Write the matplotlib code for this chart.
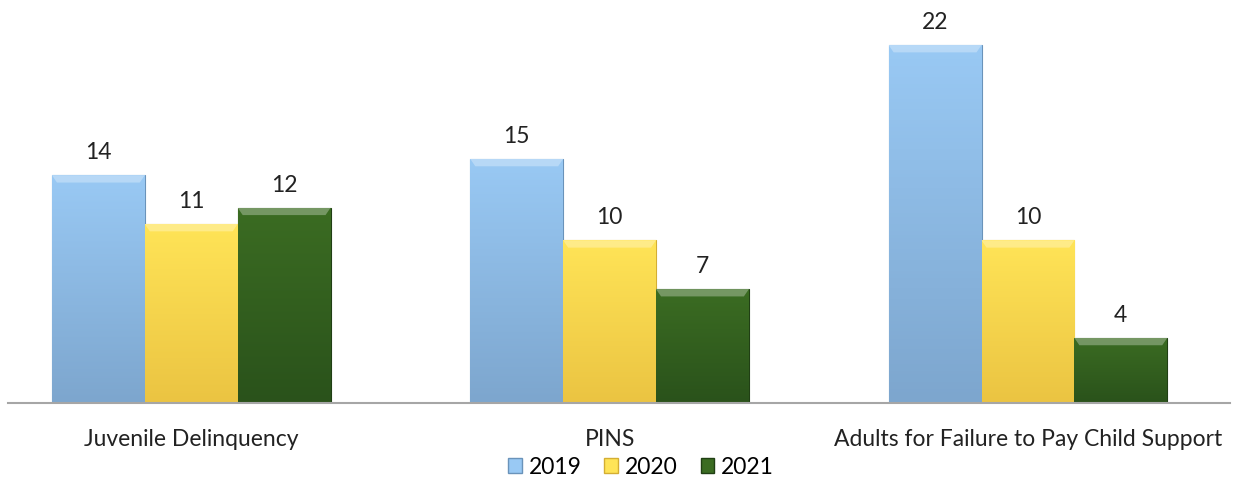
import numpy as np
import matplotlib
matplotlib.use("Agg")
import matplotlib.pyplot as plt
from matplotlib.colors import LinearSegmentedColormap

categories = ["Juvenile Delinquency", "PINS", "Adults for Failure to Pay Child Support"]
years = ["2019", "2020", "2021"]
v2019 = [14, 15, 22]
v2020 = [11, 10, 10]
v2021 = [12, 7, 4]
series = [v2019, v2020, v2021]

top_colors = ["#99C9F4", "#FFE457", "#3B6C22"]
bot_colors = ["#7DA6CE", "#EBC442", "#2A521B"]
edge_colors = ["#6A93BA", "#D4AE33", "#203F14"]

plt.rcParams['font.family'] = ['Lato', 'DejaVu Sans']

fig = plt.figure(figsize=(12.35, 4.8), dpi=100)
ax = fig.add_axes([8/1235, 77/480, (1230-8)/1235, 383/480])

width = 0.222
x = np.arange(len(categories))
ymax = 23.54
for i, vals in enumerate(series):
    pos = x + (i - 1) * width
    bars = ax.bar(pos, vals, width=width, color=top_colors[i], edgecolor=edge_colors[i],
                  linewidth=0.8, zorder=2, label=years[i])
    cmap = LinearSegmentedColormap.from_list("g%d" % i, [bot_colors[i], top_colors[i]])
    for b, v in zip(bars, vals):
        x0 = b.get_x()
        w = b.get_width()
        grad = np.linspace(0, 1, 100).reshape(-1, 1)
        im = ax.imshow(grad, extent=[x0, x0 + w, 0, v], origin="lower", aspect="auto",
                       cmap=cmap, zorder=2.1)
        im.set_clip_path(b)
        bev = 0.45
        ax.fill([x0, x0 + w, x0 + w - 0.012, x0 + 0.012], [v, v, v - bev, v - bev],
                color="white", alpha=0.3, zorder=2.2, lw=0)
        ax.text(x0 + w / 2, v + 0.75, str(v), ha="center", va="bottom", fontsize=16.5,
                color="#222222")

ax.set_xlim(-0.438, 2.483)
ax.set_ylim(0, ymax)
for s in ["top", "right", "left"]:
    ax.spines[s].set_visible(False)
ax.spines["bottom"].set_color("#A6A6A6")
ax.spines["bottom"].set_linewidth(1.5)
ax.set_yticks([])
ax.set_xticks(x)
ax.set_xticklabels(categories, fontsize=16.5, color="#222222")
ax.tick_params(axis="x", length=0, pad=19)

handles = [plt.Rectangle((0, 0), 1, 1, facecolor=top_colors[i], edgecolor=edge_colors[i]) for i in range(3)]
fig.legend(handles, years, loc="center", bbox_to_anchor=(641/1235, 1 - 467/480), ncol=3,
           frameon=False, fontsize=16.5, handlelength=0.6, handleheight=0.6,
           handletextpad=0.3, columnspacing=1.0, borderpad=0)

fig.savefig("out.png", dpi=100)
